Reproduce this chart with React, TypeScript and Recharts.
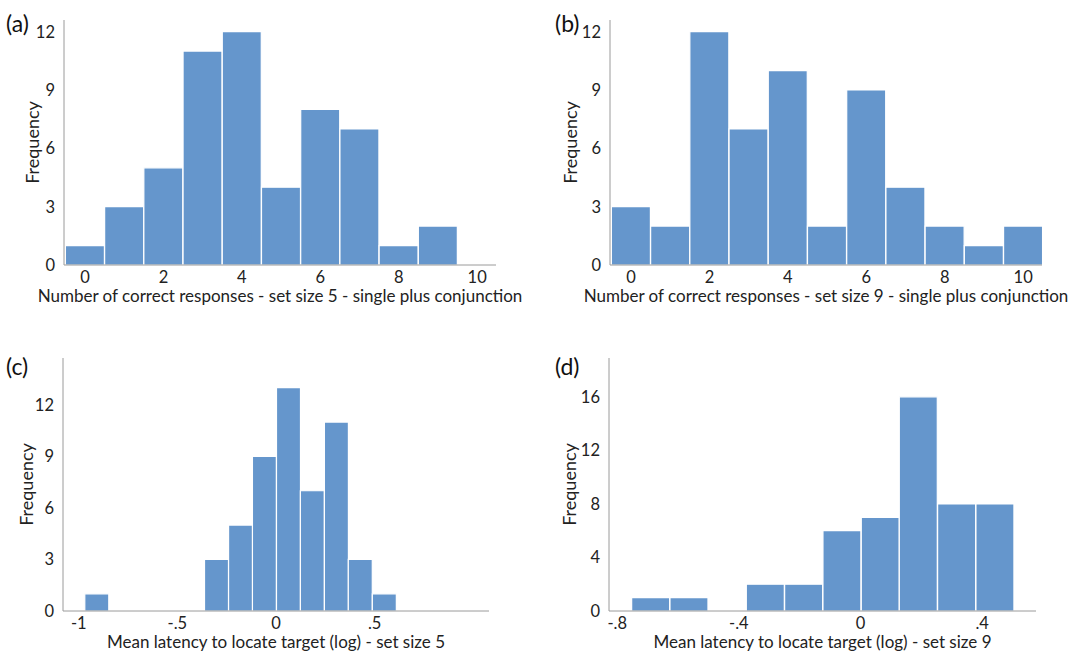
import React from "react";
import { BarChart, Bar, XAxis, YAxis } from "recharts";

// counts per bin, bins centred on 0..10 correct responses
const responseBins = [0, 1, 2, 3, 4, 5, 6, 7, 8, 9, 10];
const countsSetSize5 = [1, 3, 5, 11, 12, 4, 8, 7, 1, 2, 0];
const countsSetSize9 = [3, 2, 12, 7, 10, 2, 9, 4, 2, 1, 2];

// log latency histograms (bin centres)
const latencyBins5 = [-0.909, -0.788, -0.666, -0.545, -0.423, -0.302, -0.18, -0.059, 0.063, 0.184, 0.306, 0.427, 0.549];
const latencyCounts5 = [1, 0, 0, 0, 0, 3, 5, 9, 13, 7, 11, 3, 1];
const latencyBins9 = [-0.69, -0.564, -0.439, -0.313, -0.187, -0.061, 0.065, 0.19, 0.316, 0.442];
const latencyCounts9 = [1, 1, 0, 2, 2, 6, 7, 16, 8, 8];

const responseTicks = [0, 2, 4, 6, 8, 10];
const latencyTicks5 = [-1, -0.5, 0, 0.5];
const latencyTicks9 = [-0.8, -0.4, 0, 0.4];
const freqTicks12 = [0, 3, 6, 9, 12];
const freqTicks16 = [0, 4, 8, 12, 16];

const BLUE = "#6596cc";
const AXIS = "#9a9a9a";
const FONT = "Lato, 'Open Sans', sans-serif";

// ".5" / "-.4" style labels like the original software
const shortNum = (v: number) => {
  if (v === 0) return "0";
  const s = String(v);
  return s.replace(/^(-?)0\./, "$1.");
};

const toRows = (bins: number[], counts: number[]) =>
  bins.map((b, i) => ({ bin: b, count: counts[i] }));

interface PanelProps {
  tag: string;
  left: number;
  top: number;
  height: number;
  data: { bin: number; count: number }[];
  xDomain: [number, number];
  xTicks: number[];
  yMax: number;
  yTicks: number[];
  xTitle: string;
  margin: { top: number; right: number; left: number; bottom: number };
  yWidth: number;
  xHeight: number;
  freqOffset: number;
  titleOffset: number;
  tagLeft: number;
  tagTop: number;
}

function Panel(p: PanelProps) {
  const tickStyle = { fill: "#222", fontSize: 16.5, fontFamily: FONT };
  return (
    <div style={{ position: "absolute", left: p.left, top: p.top }}>
      <BarChart width={546} height={p.height} data={p.data} margin={p.margin} barCategoryGap={0} barGap={0}>
        <XAxis
          dataKey="bin"
          type="number"
          domain={p.xDomain}
          ticks={p.xTicks}
          tickFormatter={shortNum}
          tick={tickStyle}
          tickLine={false}
          tickSize={0}
          tickMargin={6}
          stroke={AXIS}
          height={p.xHeight}
          interval={0}
          label={{
            value: p.xTitle,
            position: "insideBottom",
            offset: p.titleOffset,
            style: { fill: "#222", fontSize: 17, fontFamily: FONT },
          }}
        />
        <YAxis
          type="number"
          domain={[0, p.yMax]}
          ticks={p.yTicks}
          tick={tickStyle}
          tickLine={false}
          tickSize={0}
          tickMargin={9}
          stroke={AXIS}
          width={p.yWidth}
          interval={0}
          label={{
            value: "Frequency",
            angle: -90,
            position: "insideLeft",
            offset: p.freqOffset,
            style: { fill: "#222", fontSize: 18, fontFamily: FONT, textAnchor: "middle" },
          }}
        />
        <Bar dataKey="count" fill={BLUE} stroke="#fff" strokeWidth={1.2} isAnimationActive={false} />
      </BarChart>
      <div
        style={{
          position: "absolute",
          left: p.tagLeft,
          top: p.tagTop,
          fontFamily: FONT,
          fontSize: 23,
          color: "#111",
          lineHeight: 1,
        }}
      >
        {p.tag}
      </div>
    </div>
  );
}

export default function App() {
  return (
    <div style={{ position: "absolute", left: 0, top: 0, width: 1092, height: 652, background: "#fff" }}>
      <Panel
        tag="(a)"
        left={0}
        top={0}
        height={310}
        data={toRows(responseBins, countsSetSize5)}
        xDomain={[-0.536, 10.48]}
        xTicks={responseTicks}
        yMax={12.6}
        yTicks={freqTicks12}
        xTitle="Number of correct responses - set size 5 - single plus conjunction"
        margin={{ top: 20, right: 50, left: 0, bottom: 0 }}
        yWidth={64}
        xHeight={45}
        freqOffset={33}
        titleOffset={8}
        tagLeft={6}
        tagTop={12}
      />
      <Panel
        tag="(b)"
        left={546}
        top={0}
        height={310}
        data={toRows(responseBins, countsSetSize9)}
        xDomain={[-0.536, 10.48]}
        xTicks={responseTicks}
        yMax={12.6}
        yTicks={freqTicks12}
        xTitle="Number of correct responses - set size 9 - single plus conjunction"
        margin={{ top: 20, right: 50, left: 0, bottom: 0 }}
        yWidth={64}
        xHeight={45}
        freqOffset={25}
        titleOffset={8}
        tagLeft={9}
        tagTop={12}
      />
      <Panel
        tag="(c)"
        left={0}
        top={320}
        height={332}
        data={toRows(latencyBins5, latencyCounts5)}
        xDomain={[-1.08, 1.08]}
        xTicks={latencyTicks5}
        yMax={14.73}
        yTicks={freqTicks12}
        xTitle="Mean latency to locate target (log) - set size 5"
        margin={{ top: 38, right: 57, left: 0, bottom: 0 }}
        yWidth={63}
        xHeight={41}
        freqOffset={27}
        titleOffset={4.5}
        tagLeft={6}
        tagTop={35}
      />
      <Panel
        tag="(d)"
        left={546}
        top={320}
        height={332}
        data={toRows(latencyBins9, latencyCounts9)}
        xDomain={[-0.827, 0.577]}
        xTicks={latencyTicks9}
        yMax={18.9}
        yTicks={freqTicks16}
        xTitle="Mean latency to locate target (log) - set size 9"
        margin={{ top: 38, right: 56, left: 0, bottom: 0 }}
        yWidth={63}
        xHeight={41}
        freqOffset={24}
        titleOffset={4.5}
        tagLeft={9}
        tagTop={35}
      />
    </div>
  );
}
